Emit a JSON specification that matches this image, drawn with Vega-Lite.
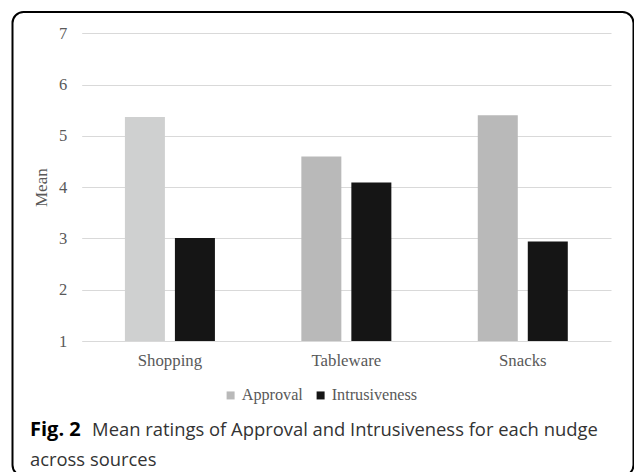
{
  "$schema": "https://vega.github.io/schema/vega-lite/v6.json",
  "autosize": {"type": "none"},
  "padding": {"left": 12.5, "top": 12, "right": 0, "bottom": 0},
  "width": 621,
  "height": 464,
  "background": "white",
  "config": {
    "view": {"stroke": "#000000", "strokeWidth": 2, "cornerRadius": 11},
    "font": "Liberation Serif"
  },
  "title": {
    "text": "Fig. 2",
    "orient": "bottom",
    "anchor": "start",
    "frame": "group",
    "offset": -56,
    "dx": 17.5,
    "font": "Open Sans",
    "fontSize": 20,
    "fontWeight": "bold",
    "color": "#000000",
    "subtitle": ["\u200b\u00a0\u00a0\u00a0\u00a0\u00a0\u00a0\u00a0\u00a0\u00a0\u00a0\u00a0\u00a0\u00a0Mean ratings of Approval and Intrusiveness for each nudge", "across sources"],
    "subtitleFont": "Open Sans",
    "subtitleFontSize": 18.4,
    "subtitleFontWeight": "normal",
    "subtitleColor": "#333333",
    "subtitlePadding": -18.7,
    "subtitleLineHeight": 29.4
  },
  "data": {
    "values": [
      {"nudge": "Shopping", "series": "Approval", "mean": 5.37},
      {"nudge": "Shopping", "series": "Intrusiveness", "mean": 3.01},
      {"nudge": "Tableware", "series": "Approval", "mean": 4.6},
      {"nudge": "Tableware", "series": "Intrusiveness", "mean": 4.09},
      {"nudge": "Snacks", "series": "Approval", "mean": 5.4},
      {"nudge": "Snacks", "series": "Intrusiveness", "mean": 2.94}
    ]
  },
  "mark": {"type": "bar"},
  "encoding": {
    "x": {
      "field": "nudge",
      "type": "nominal",
      "sort": ["Shopping", "Tableware", "Snacks"],
      "scale": {"range": [69.2, 598.5], "paddingInner": 0, "paddingOuter": 0},
      "axis": {
        "title": null,
        "orient": "bottom",
        "offset": -135,
        "domain": false,
        "ticks": false,
        "grid": false,
        "labelAngle": 0,
        "labelFontSize": 16.8,
        "labelColor": "#595959",
        "labelPadding": 11
      }
    },
    "xOffset": {
      "field": "series",
      "type": "nominal",
      "sort": ["Approval", "Intrusiveness"],
      "scale": {"paddingInner": 0.2, "paddingOuter": 0.864}
    },
    "y": {
      "field": "mean",
      "type": "quantitative",
      "scale": {"domain": [1, 7], "range": [329, 21.3], "zero": false, "nice": false},
      "axis": {
        "title": "Mean",
        "orient": "left",
        "offset": -69.2,
        "values": [1, 2, 3, 4, 5, 6, 7],
        "domain": false,
        "ticks": false,
        "grid": true,
        "gridColor": "#d9d9d9",
        "gridWidth": 1,
        "labelFontSize": 16.5,
        "labelColor": "#595959",
        "labelPadding": 15,
        "titleFontSize": 17,
        "titleColor": "#595959",
        "titleFontWeight": "normal",
        "titlePadding": 8
      }
    },
    "y2": {"datum": 1},
    "color": {
      "condition": {"test": "datum.nudge === 'Shopping' && datum.series === 'Approval'", "value": "#cfd0d0"},
      "field": "series",
      "type": "nominal",
      "scale": {"domain": ["Approval", "Intrusiveness"], "range": ["#b9b9b9", "#151515"]},
      "legend": {
        "orient": "none",
        "legendX": 210,
        "legendY": 375,
        "direction": "horizontal",
        "title": null,
        "symbolType": "square",
        "symbolSize": 64,
        "symbolStrokeWidth": 0,
        "labelFontSize": 16.2,
        "labelColor": "#595959",
        "labelOffset": 3,
        "columnPadding": 9
      }
    }
  }
}
